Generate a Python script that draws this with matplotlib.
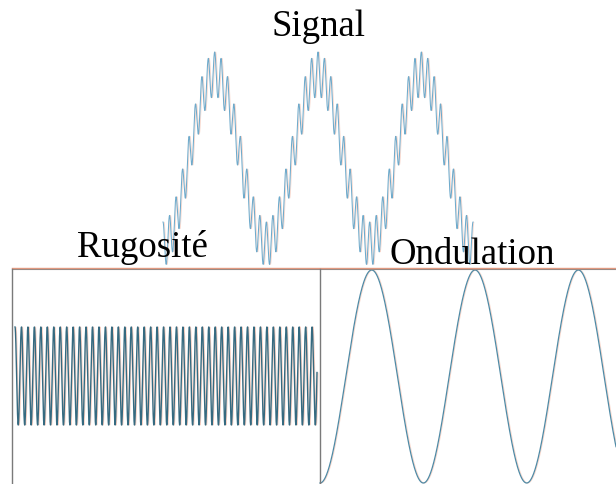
import numpy as np
import matplotlib
matplotlib.use("Agg")
import matplotlib.pyplot as plt

# ---- data ----
titles = ["Signal", "Rugosité", "Ondulation"]
n_wave_cycles = 3            # ondulation cycles shown in the signal
ripples_per_cycle = 16       # roughness periods per waviness period
signal_wave_amp = 85         # px
signal_ripple_amp = 22       # px
rugosite_amp = 49            # px
ondulation_amp = 106.5       # px

# ---- layout (pixel space) ----
W, H = 616, 484
sig_x0, sig_x1, sig_yc = 163, 473, 159
period = (sig_x1 - sig_x0) / n_wave_cycles
frame_y, frame_x0, divider_x = 269, 12, 320
rug_x0, rug_x1, rug_yc = 15, 317, 376
ond_x0, ond_x1, ond_yc = 320, 616, 376.5

orange = "#f2b09a"

fig = plt.figure(figsize=(W / 100, H / 100), dpi=100)
ax = fig.add_axes([0, 0, 1, 1])
ax.set_xlim(0, W)
ax.set_ylim(H, 0)
ax.axis("off")

def draw(x, y, color, lw, oalpha=0.7):
    ax.plot(x + 1.0, y, color=orange, lw=lw * 0.8, alpha=oalpha, solid_capstyle="butt")
    ax.plot(x, y, color=color, lw=lw)

# Signal
x = np.linspace(sig_x0, sig_x1, 6000)
t = (x - sig_x0) / period
y = sig_yc + signal_wave_amp * np.cos(2 * np.pi * t) - signal_ripple_amp * np.cos(2 * np.pi * ripples_per_cycle * t)
draw(x, y, "#6eaacb", 0.75, 0.5)

# Rugosité
x = np.linspace(rug_x0, rug_x1, 6000)
t = (x - rug_x0) / period
y = rug_yc - rugosite_amp * np.cos(2 * np.pi * ripples_per_cycle * t)
draw(x, y, "#356a80", 1.0, 0.6)

# Ondulation
x = np.linspace(ond_x0, ond_x1, 3000)
t = (x - ond_x0) / period
y = ond_yc + ondulation_amp * np.cos(2 * np.pi * t)
draw(x, y, "#4f8aa5", 0.9, 0.5)

# frame lines
ax.plot([frame_x0, W], [frame_y - 1, frame_y - 1], color="#e59a80", lw=1.0)
ax.plot([frame_x0, W], [frame_y, frame_y], color="#9a8a84", lw=0.8)
ax.plot([frame_x0, frame_x0], [frame_y, H], color="#7a7a7a", lw=1.0)
ax.plot([divider_x, divider_x], [frame_y, H], color="#7a7a7a", lw=1.0)

font = dict(family="Liberation Serif", size=26.5, color="black", va="baseline")
ax.text(318, 36, titles[0], ha="center", **font)
ax.text(142, 257, titles[1], ha="center", **font)
ax.text(472, 264, titles[2], ha="center", **font)

fig.savefig("out.png", dpi=100)
